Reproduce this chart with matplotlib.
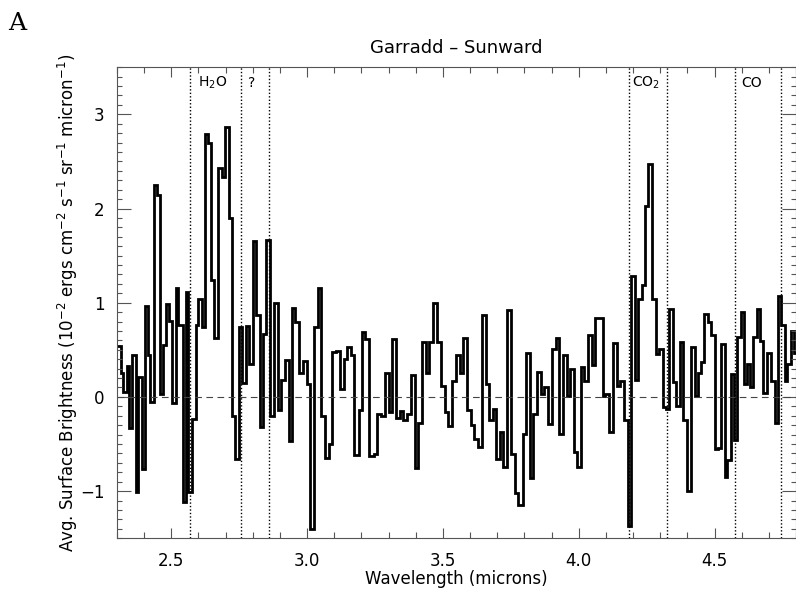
import numpy as np
import matplotlib.pyplot as plt
from matplotlib.ticker import MultipleLocator

# bin edges (microns) and brightness values
edges = [2.2996, 2.3144, 2.3230, 2.3353, 2.3439, 2.3562, 2.3710, 2.3784, 2.3907, 2.4030,
         2.4128, 2.4202, 2.4374, 2.4460, 2.4571, 2.4706, 2.4792, 2.4915, 2.5038, 2.5161,
         2.5260, 2.5419, 2.5530, 2.5629, 2.5776, 2.5899, 2.5998, 2.6121, 2.6244, 2.6341,
         2.6477, 2.6588, 2.6735, 2.6858, 2.6981, 2.7141, 2.7228,
         2.7351, 2.7474, 2.7597, 2.7732, 2.7867, 2.7990, 2.8126, 2.8249, 2.8372, 2.8495,
         2.8642, 2.8765, 2.8925, 2.9036, 2.9171, 2.9319, 2.9442, 2.9565, 2.9688, 2.9847,
         2.9995, 3.0118, 3.0241, 3.0389, 3.0524, 3.0672, 3.0795, 3.0918, 3.1077, 3.1200,
         3.1348, 3.1460,
         3.1631, 3.1742, 3.1902, 3.2025, 3.2148, 3.2295, 3.2455, 3.2578, 3.2726, 3.2861,
         3.3009, 3.3132, 3.3255, 3.3402, 3.3525, 3.3685, 3.3808, 3.3956, 3.4091, 3.4239,
         3.4362, 3.4485, 3.4645, 3.4792, 3.4940, 3.5063, 3.5186, 3.5321, 3.5469, 3.5616,
         3.5739,
         3.5899, 3.6022, 3.6145, 3.6293, 3.6428, 3.6576, 3.6699, 3.6846, 3.6969, 3.7104,
         3.7227, 3.7375, 3.7523, 3.7646, 3.7781, 3.7941, 3.8052, 3.8199, 3.8334, 3.8482,
         3.8605, 3.8728, 3.8876, 3.8999, 3.9146, 3.9282, 3.9405, 3.9552, 3.9687, 3.9810,
         3.9940,
         4.0094, 4.0205, 4.0352, 4.0475, 4.0610, 4.0733, 4.0881, 4.0979, 4.1102, 4.1275,
         4.1397, 4.1532, 4.1680, 4.1803, 4.1926, 4.2074, 4.2197, 4.2320, 4.2443, 4.2566,
         4.2701, 4.2849, 4.2972, 4.3119, 4.3218, 4.3341, 4.3464, 4.3587, 4.3735, 4.3857,
         4.3980, 4.4116, 4.4263,
         4.4386, 4.4485, 4.4608, 4.4755, 4.4878, 4.5001, 4.5124, 4.5247, 4.5370, 4.5469,
         4.5592, 4.5715, 4.5838, 4.5961, 4.6084, 4.6207, 4.6305, 4.6428, 4.6551, 4.6674,
         4.6797, 4.6945, 4.7092, 4.7215, 4.7338, 4.7461, 4.7584, 4.7683, 4.7806, 4.7929,
         4.8052]

brightness = [0.54, 0.25, 0.05, 0.33, -0.33, 0.44, -1.01, 0.21, -0.77, 0.96,
              0.45, -0.05, 2.25, 2.14, 0.03, 0.55, 0.99, 0.81, -0.06, 1.16,
              0.76, -1.12, 1.11, -1.01, -0.23, 0.76, 1.04, 0.74, 2.79, 2.70,
              1.24, 0.63, 2.43, 2.33, 2.86, 1.90,
              -0.20, -0.66, 0.74, 0.15, 0.75, 0.35, 1.65, 0.87, -0.32, 0.67,
              1.67, -0.20, 1.00, -0.14, 0.18, 0.39, -0.47, 0.94, 0.80, 0.25,
              0.38, 0.14, -1.40, 0.74, 1.16, -0.20, -0.65, -0.50, 0.48, 0.49,
              0.08, 0.40,
              0.53, 0.44, -0.62, -0.14, 0.69, 0.61, -0.63, -0.61, -0.18, -0.20,
              0.25, -0.16, 0.61, -0.22, -0.15, -0.25, -0.18, 0.23, -0.76, -0.28,
              0.58, 0.25, 0.58, 1.00, 0.58, 0.12, -0.16, -0.31, 0.17, 0.44,
              0.25,
              0.63, -0.14, -0.30, -0.45, -0.53, 0.87, 0.14, -0.24, -0.13, -0.66,
              -0.37, -0.74, 0.92, -0.61, -1.02, -1.15, -0.39, 0.47, -0.86, -0.18,
              0.26, 0.03, 0.10, -0.29, 0.51, 0.63, -0.39, 0.44, 0.01, 0.30,
              -0.59,
              -0.74, 0.32, 0.17, 0.66, 0.34, 0.84, 0.84, 0.01, 0.03, -0.37,
              0.57, 0.12, 0.17, -0.25, -1.37, 1.28, 0.18, 1.04, 1.19, 2.03,
              2.47, 1.04, 0.46, 0.51, -0.11, -0.13, 0.93, 0.16, -0.10, 0.58,
              -0.24, -1.00, 0.53,
              0.01, 0.25, 0.37, 0.88, 0.80, 0.66, -0.55, -0.54, 0.56, -0.85,
              -0.67, 0.24, -0.46, 0.64, 0.90, 0.14, 0.35, 0.10, 0.64, 0.93,
              0.59, 0.04, 0.47, 0.17, -0.28, 1.07, 0.76, 0.17, 0.35, 0.70,
              0.47]

# band boundaries (dotted lines) and labels
band_lines = [2.569, 2.757, 2.859, 4.184, 4.3255, 4.5764, 4.7461]
band_labels = ['H$_2$O', '?', 'CO$_2$', 'CO']
label_x = [2.597, 2.782, 4.196, 4.598]

fig = plt.figure(figsize=(7.96, 6.0), dpi=100)
ax = fig.add_axes([0.147, 0.103, 0.853, 0.785])

ax.stairs(brightness, edges, baseline=None, color='black', linewidth=2)
ax.axhline(0, color='#444444', linestyle=(0, (6, 4)), linewidth=0.8)
for xl in band_lines:
    ax.axvline(xl, color='black', linestyle=(0, (1, 1.5)), linewidth=1)
for lab, xl in zip(band_labels, label_x):
    ax.text(xl, 3.33, lab, fontsize=10, ha='left', va='center')

ax.set_xlim(2.3, 4.8)
ax.set_ylim(-1.5, 3.5)
ax.xaxis.set_major_locator(MultipleLocator(0.5))
ax.xaxis.set_minor_locator(MultipleLocator(0.1))
ax.yaxis.set_major_locator(MultipleLocator(1))
ax.yaxis.set_minor_locator(MultipleLocator(0.1))
ax.set_xticks([2.5, 3.0, 3.5, 4.0, 4.5])
ax.set_xticklabels(['2.5', '3.0', '3.5', '4.0', '4.5'])
ax.set_yticks([-1, 0, 1, 2, 3])
ax.set_yticklabels(['\u22121', '0', '1', '2', '3'])

ax.tick_params(which='both', direction='in', top=True, right=True, colors='#555555',
               labelcolor='black', labelsize=12, width=0.8)
ax.tick_params(axis='x', which='major', length=7, pad=10)
ax.tick_params(axis='x', which='minor', length=4)
ax.tick_params(axis='y', which='major', length=10, pad=9)
ax.tick_params(axis='y', which='minor', length=3.6)
for s in ax.spines.values():
    s.set_color('#555555')
    s.set_linewidth(0.8)

ax.set_title('Garradd \u2013 Sunward', fontsize=13, pad=10)
ax.set_xlabel('Wavelength (microns)', fontsize=12, labelpad=0)
ax.set_ylabel('Avg. Surface Brightness (10$^{-2}$ ergs cm$^{-2}$ s$^{-1}$ sr$^{-1}$ micron$^{-1}$)',
              fontsize=12, labelpad=0)

fig.text(0.01, 0.95, 'A', fontsize=18, family='DejaVu Serif')

plt.savefig('out.png', dpi=100)
